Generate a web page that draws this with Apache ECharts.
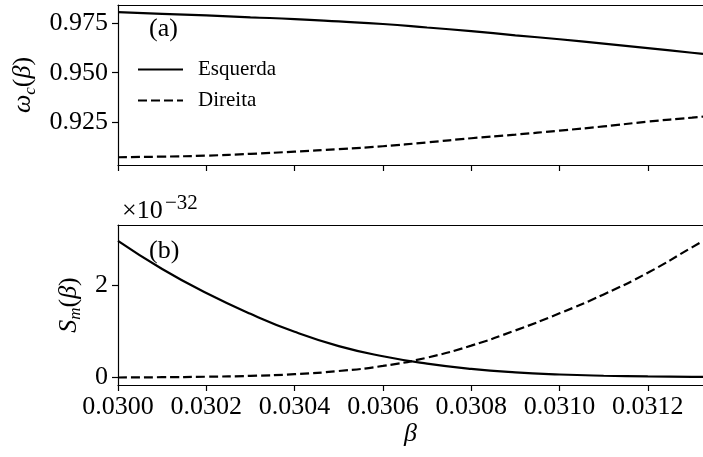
<!DOCTYPE html>
<html>
<head>
<meta charset="utf-8">
<script src="https://cdn.jsdelivr.net/npm/echarts@6/dist/echarts.min.js"></script>
<style>
  html, body { margin: 0; padding: 0; background: #ffffff; }
  #chart { width: 703px; height: 457px; }
</style>
</head>
<body>
<div id="chart"></div>
<script>
// Sampled beta values shared by both panels
const betas = [0.03000, 0.03010, 0.03020, 0.03030, 0.03040, 0.03050, 0.03060, 0.03070,
               0.03080, 0.03090, 0.03100, 0.03110, 0.03120, 0.03130, 0.031325];

// Panel (a): omega_c(beta)
const omegaLeft  = [0.98056, 0.97975, 0.97895, 0.97800, 0.97710, 0.97590, 0.97460, 0.97285,
                    0.97100, 0.96890, 0.96690, 0.96470, 0.96240, 0.96008, 0.95950];
const omegaRight = [0.90732, 0.90763, 0.90813, 0.90904, 0.91015, 0.91141, 0.91288, 0.91480,
                    0.91692, 0.91874, 0.92076, 0.92288, 0.92530, 0.92732, 0.92783];

// Panel (b): S_m(beta), in units of 1e-32
const sLeft  = [2.96, 2.35, 1.83, 1.38, 0.99, 0.68, 0.46, 0.30, 0.185, 0.11, 0.065, 0.038, 0.022, 0.013, 0.011];
const sRight = [0.000, 0.006, 0.016, 0.035, 0.072, 0.14, 0.25, 0.43, 0.69, 1.02, 1.39, 1.80, 2.27, 2.82, 2.96];

// Tick values
const betaTicks  = [0.0300, 0.0302, 0.0304, 0.0306, 0.0308, 0.0310, 0.0312];
const omegaTicks = [0.925, 0.950, 0.975];
const sTicks     = [0, 2];

const SERIF = 'Liberation Serif';
const INK = '#000000';

const pairs = (ys) => betas.map((b, i) => [b, ys[i]]);

const axisLineStyle = { color: INK, width: 1.2 };
const tickStyle = { color: INK, width: 1.2 };
const labelFont = { fontFamily: SERIF, fontSize: 26, color: INK };

const xBase = {
  type: 'value', min: 0.0300, max: 0.031325,
  axisLine: { show: true, onZero: false, lineStyle: axisLineStyle },
  splitLine: { show: false }
};

const italic = { fontFamily: SERIF, fontStyle: 'italic', fontSize: 26, color: INK, lineHeight: 30 };
const upright = { fontFamily: SERIF, fontSize: 26, color: INK, lineHeight: 30 };
const subscript = { fontFamily: SERIF, fontStyle: 'italic', fontSize: 17, color: INK, verticalAlign: 'bottom', lineHeight: 16 };

const curve = { smooth: 0.5, symbol: 'none', showSymbol: false };
const solidLine = { color: INK, width: 2.2 };
const dashedLine = { color: INK, width: 2.2, type: [9, 4] };

const chart = echarts.init(document.getElementById('chart'), null, { renderer: 'canvas' });

chart.setOption({
  animation: false,
  backgroundColor: '#ffffff',
  grid: [
    { left: 118, top: 5, width: 585, height: 160 },
    { left: 118, top: 225, width: 585, height: 160 }
  ],
  legend: {
    left: 137, top: 59, orient: 'vertical', padding: 0,
    itemWidth: 45, itemHeight: 24, itemGap: 10,
    data: ['Esquerda', 'Direita'],
    selectedMode: false,
    itemStyle: { opacity: 0 },
    textStyle: { fontFamily: SERIF, fontSize: 21, color: INK, padding: [0, 0, 0, 10] }
  },
  xAxis: [
    Object.assign({}, xBase, {
      gridIndex: 0, position: 'bottom',
      axisTick: { show: true, length: 6, lineStyle: tickStyle, customValues: betaTicks },
      axisLabel: { show: false }
    }),
    Object.assign({}, xBase, {
      gridIndex: 0, position: 'top',
      axisTick: { show: false }, axisLabel: { show: false }
    }),
    Object.assign({}, xBase, {
      gridIndex: 1, position: 'bottom',
      name: 'β', nameLocation: 'middle', nameGap: 33,
      nameTextStyle: { fontFamily: SERIF, fontStyle: 'italic', fontSize: 26, color: INK },
      axisTick: { show: true, length: 6, lineStyle: tickStyle, customValues: betaTicks },
      axisLabel: Object.assign({ margin: 9, customValues: betaTicks, formatter: (v) => v.toFixed(4) }, labelFont)
    }),
    Object.assign({}, xBase, {
      gridIndex: 1, position: 'top',
      axisTick: { show: false }, axisLabel: { show: false }
    })
  ],
  yAxis: [
    {
      type: 'value', gridIndex: 0, min: 0.9034, max: 0.9842,
      axisLine: { show: true, lineStyle: axisLineStyle },
      splitLine: { show: false },
      axisTick: { show: true, length: 6, lineStyle: tickStyle, customValues: omegaTicks },
      axisLabel: Object.assign({ margin: 10, customValues: omegaTicks, formatter: (v) => v.toFixed(3) }, labelFont),
      name: '{i|ω}{s|c}{n|(}{i|β}{n|)}',
      nameLocation: 'middle', nameRotate: 90, nameGap: 76,
      nameTextStyle: { rich: { i: italic, n: upright, s: subscript } }
    },
    {
      type: 'value', gridIndex: 1, min: -0.163, max: 3.305,
      axisLine: { show: true, lineStyle: axisLineStyle },
      splitLine: { show: false },
      axisTick: { show: true, length: 6, lineStyle: tickStyle, customValues: sTicks },
      axisLabel: Object.assign({ margin: 10, customValues: sTicks, formatter: (v) => String(v) }, labelFont),
      name: '{i|S}{s|m}{n|(}{i|β}{n|)}',
      nameLocation: 'middle', nameRotate: 90, nameGap: 24,
      nameTextStyle: { rich: { i: italic, n: upright, s: subscript } }
    }
  ],
  graphic: [
    { type: 'text', left: 149, top: 16, style: { text: '(a)', font: '26px "Liberation Serif"', fill: INK } },
    { type: 'text', left: 149, top: 238, style: { text: '(b)', font: '26px "Liberation Serif"', fill: INK } },
    { type: 'text', left: 122, top: 198, style: { text: '×10', font: '26px "Liberation Serif"', fill: INK } },
    { type: 'text', left: 165, top: 193, style: { text: '−32', font: '21px "Liberation Serif"', fill: INK } }
  ],
  series: [
    Object.assign({ type: 'line', name: 'Esquerda', xAxisIndex: 0, yAxisIndex: 0,
      data: pairs(omegaLeft), lineStyle: solidLine, itemStyle: { color: INK } }, curve),
    Object.assign({ type: 'line', name: 'Direita', xAxisIndex: 0, yAxisIndex: 0,
      data: pairs(omegaRight), lineStyle: dashedLine, itemStyle: { color: INK } }, curve),
    Object.assign({ type: 'line', name: 'Esquerda', xAxisIndex: 2, yAxisIndex: 1,
      data: pairs(sLeft), lineStyle: solidLine, itemStyle: { color: INK } }, curve),
    Object.assign({ type: 'line', name: 'Direita', xAxisIndex: 2, yAxisIndex: 1,
      data: pairs(sRight), lineStyle: dashedLine, itemStyle: { color: INK } }, curve)
  ]
});
</script>
</body>
</html>
